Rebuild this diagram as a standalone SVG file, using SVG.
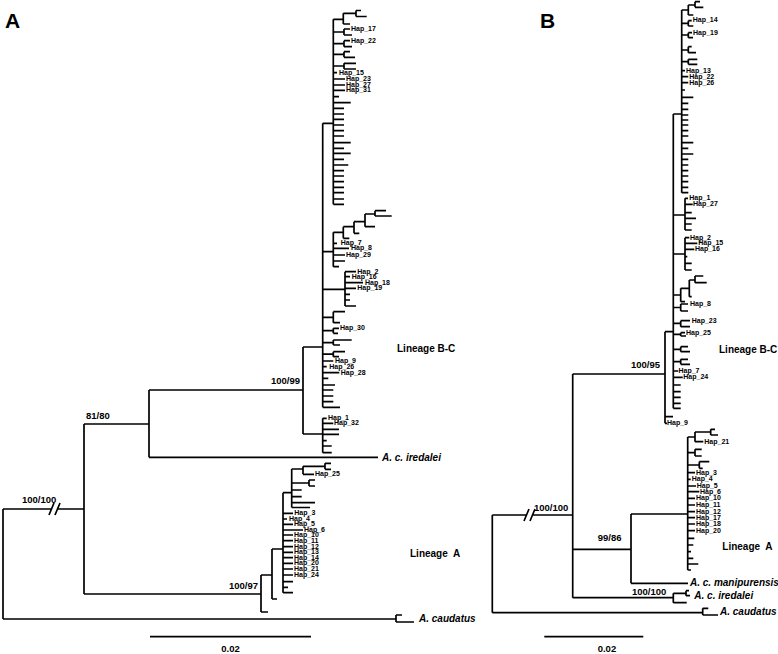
<svg xmlns="http://www.w3.org/2000/svg" width="778" height="654" viewBox="0 0 778 654">
<style>
.e{fill:none;stroke:#000;stroke-width:1.7}
.h{font:bold 7px "Liberation Sans",Arial,sans-serif}
.s{font:bold 9.5px "Liberation Sans",Arial,sans-serif}
.sp{font:italic bold 10px "Liberation Sans",Arial,sans-serif}
.lin{font:bold 10px "Liberation Sans",Arial,sans-serif;white-space:pre}
.pl{font:bold 21px "Liberation Sans",Arial,sans-serif}
</style>
<rect width="778" height="654" fill="#fff"/>
<g id="connectors">
<path class="e" d="M3 509V619M3 509H52M58 509H84M3 619H396M396 615V622M396 615H402M396 622H414M49 515L54 503M55 515L60 503
M84 424V594M84 424H149M84 594H261M149 390V457.3M149 390H303M149 457.3H378M303 347V434M303 347H322.7M303 434H322.7
M322.7 418.3V452.7M322.7 418.3H326.7M322.7 423.3H333.3M322.7 429.3H339M322.7 434.3H339M322.7 440.7H326.7M322.7 446H331.7M322.7 452.7H331.7
M322.7 123.3V407.3M322.7 123.3H333.3M322.7 251.7H333.3M322.7 289.3H345M322.7 317.3H333.3M322.7 330.7H333.3M322.7 342.7H333.3M322.7 354.2H333.3M322.7 361H333.3M322.7 366.7H326.7M322.7 372.7H339.3M322.7 378.3H328.3M322.7 385H335M322.7 390H333.3M322.7 396H333.3M322.7 401.7H333.3M322.7 407.3H340
M333.3 19.3V204.3M333.3 19.3H343.3M333.3 32H344M333.3 43.7H344M333.3 54.3H344M333.3 66H344M333.3 72.7H337M333.3 79H345M333.3 85H345M333.3 90.3H345M333.3 96.7H339M333.3 102.7H350.7M333.3 108.3H344M333.3 114H344M333.3 119.3H344M333.3 125H344M333.3 130.7H344M333.3 136H344M333.3 142.7H350.7M333.3 148.3H344M333.3 153.3H350.7M333.3 159.3H344M333.3 165H348.3M333.3 170.7H344M333.3 176H344M333.3 181.7H344M333.3 187.3H344M333.3 192.7H344M333.3 199H344M333.3 204.3H344
M343.3 13.3V24M343.3 13.3H356M343.3 24H350M356 10.5V16.5M356 10.5H361M356 16.5H366.7
M344 29V35M344 29H350M344 35H352M344 40.7V46.7M344 40.7H350M344 46.7H352M344 51.7V57.3M344 51.7H350M344 57.3H355M344 63.3V69M344 63.3H356M344 69H356
M333.3 232.3V266.7M333.3 232.3H343.3M333.3 243.3H337M333.3 248.3H349M333.3 255H345M333.3 261H345M333.3 266.7H339M343.3 226.7V238.3M343.3 226.7H354M343.3 238.3H349.3M354 221.7V233.3M354 221.7H365M354 233.3H359.3M365 214V226.7M365 214H375M365 226.7H375M375 210.7V216M375 210.7H386M375 216H391.7
M345 271.7V306M345 271.7H356M345 276.7H350M345 282.7H363M345 288.3H356M345 294.3H350M345 300H350M345 306H356
M333.3 311.7V322.7M333.3 311.7H345M333.3 322.7H340M333.3 328.3V333.3M333.3 328.3H339M333.3 333.3H338M333.3 340V345M333.3 340H351.7M333.3 345H340M333.3 351.7V356.7M333.3 351.7H345M333.3 356.7H339
M261 575V612M261 575H272M261 612H268M272 549V599M272 549H283M272 599H277M283 492.7V592.7M283 492.7H291.7M283 513.3H293M283 519H287M283 524.3H293M283 530H303M283 535H293M283 540.7H293M283 546.7H293M283 552.3H293M283 557.7H293M283 563.3H293M283 569H293M283 575H293M283 581.7H293M283 587.3H288M283 592.7H293
M291.7 469V507.5M291.7 469H303M291.7 483H309M291.7 490H301.7M291.7 496.7H301.7M291.7 502.7H315M291.7 507.5H310M303 466.3V474.3M303 466.3H325M303 474.3H314M325 463.3V469.3M325 463.3H331M325 469.3H331M309 480V486M309 480H315M309 486H315
M150 636.7H311"/>
<path class="e" d="M492.3 515V612.7M492.3 515H527M533 515H572.7M492.3 612.7H702.7M702.7 608.3V615M702.7 608.3H708.3M702.7 615H718M524 521L529 509M530 521L535 509
M572.7 374V597.7M572.7 374H665M572.7 549.3H631M572.7 597.7H673.3M673.3 593.3V602.7M673.3 593.3H686M673.3 602.7H686.7M686 590.7V595.7M686 590.7H689M686 595.7H690
M631 514V583.3M631 514H687.7M631 583.3H688
M687.7 437V570M687.7 437H695M695 432V441.7M695 432H710.7M695 441.7H703.3M710.7 429.3V435M710.7 429.3H715M710.7 435H718M687.7 452.7H695M695 449.3V456M695 449.3H701.7M695 456H701.7M687.7 465H699.3M699.3 461.7V468.3M699.3 461.7H709.3M699.3 468.3H702.7M687.7 472.7H695M687.7 479.3H690.7M687.7 486H696M687.7 491.7H699.3M687.7 498.3H695M687.7 505H695M687.7 511.7H695M687.7 517.7H695M687.7 524H695M687.7 530.7H695M687.7 538.3H694.3M687.7 545H693.3M687.7 551.7H691M687.7 558.3H693.3M687.7 564H698.3M687.7 570H691
M665 331.7V423.3M665 331.7H673.3M665 416.7H673M665 423.3H667
M673.3 114V408.3M673.3 114H681.7M673.3 215H685M673.3 254H685M673.3 295H680.7M673.3 307.5H680.7M673.3 323.3H680.7M673.3 334.3H680.7M673.3 349.3H680.7M673.3 361.7H680.7M673.3 371H678.3M673.3 377.3H682.7M673.3 385H680.7M673.3 391.7H680.7M673.3 397.3H680.7M673.3 403.3H680.7M673.3 408.3H680.7
M681.7 10V192.7M681.7 10H688.3M688.3 5V15M688.3 5H695M688.3 15H693.3M695 1.7V7.3M695 1.7H700M695 7.3H703.3
M681.7 23.3H688.3M688.3 20.7V26M688.3 20.7H691.7M688.3 26H693.3M681.7 35H688.3M688.3 32.7V37.7M688.3 32.7H692M688.3 37.7H693M681.7 50H688.3M688.3 46.7V52.7M688.3 46.7H691.7M688.3 52.7H696M681.7 61.7H688.3M688.3 59.3V64.3M688.3 59.3H697.3M688.3 64.3H697.3
M681.7 70.7H685M681.7 76.7H688.3M681.7 82.7H688.3M681.7 90H685M681.7 97.3H693.3M681.7 103.3H688.3M681.7 109.3H688.3M681.7 115H688.3M681.7 120H688.3M681.7 125H688.3M681.7 130.7H688.3M681.7 136H688.3M681.7 142.7H693.3M681.7 148.3H688.3M681.7 154H693.3M681.7 159.3H688.3M681.7 165H688.3M681.7 170.7H688.3M681.7 176H688.3M681.7 181.7H688.3M681.7 187.3H688.3M681.7 192.7H688.3
M685 198.3V230M685 198.3H688M685 204.3H692.7M685 212.7H691.7M685 218.3H696M685 224H691.7M685 230H691.7
M685 237.7V270M685 237.7H689.3M685 243.3H697.3M685 249.3H694.3M685 256.7H687.3M685 263.3H691.7M685 270H691.7
M680.7 288.3V301.7M680.7 288.3H689.3M680.7 301.7H685M689.3 280V296.7M689.3 280H695M689.3 296.7H691.7M695 276V282.7M695 276H703.3M695 282.7H706.7
M680.7 304V311M680.7 304H688M680.7 311H688M680.7 320.7V326.7M680.7 320.7H690M680.7 326.7H690M680.7 332.7V336M680.7 332.7H685M680.7 336H686M680.7 346.7V351.7M680.7 346.7H688M680.7 351.7H690M680.7 359.3V364.3M680.7 359.3H688M680.7 364.3H690
M544.3 636.7H643.3"/>
</g>
<g id="panelA">
<g id="A-label"><text class="pl" x="5" y="28">A</text></g>
<g id="A-hap17"><text class="h" x="351" y="31">Hap_17</text></g>
<g id="A-hap22"><text class="h" x="351" y="42.7">Hap_22</text></g>
<g id="A-hap15"><text class="h" x="339" y="74.7">Hap_15</text></g>
<g id="A-hap23"><text class="h" x="346" y="81">Hap_23</text></g>
<g id="A-hap27"><text class="h" x="346" y="87">Hap_27</text></g>
<g id="A-hap31"><text class="h" x="346" y="92.3">Hap_31</text></g>
<g id="A-hap7"><text class="h" x="340.7" y="245.3">Hap_7</text></g>
<g id="A-hap8"><text class="h" x="351" y="250.3">Hap_8</text></g>
<g id="A-hap29"><text class="h" x="346" y="257">Hap_29</text></g>
<g id="A-hap2"><text class="h" x="357.3" y="273.7">Hap_2</text></g>
<g id="A-hap16"><text class="h" x="351.7" y="278.7">Hap_16</text></g>
<g id="A-hap18"><text class="h" x="365" y="284.7">Hap_18</text></g>
<g id="A-hap19"><text class="h" x="357.3" y="290.3">Hap_19</text></g>
<g id="A-hap30"><text class="h" x="340" y="330">Hap_30</text></g>
<g id="A-hap9"><text class="h" x="335" y="363">Hap_9</text></g>
<g id="A-hap26"><text class="h" x="329.3" y="368.7">Hap_26</text></g>
<g id="A-hap28"><text class="h" x="340.7" y="374.7">Hap_28</text></g>
<g id="A-hap1"><text class="h" x="328" y="420.3">Hap_1</text></g>
<g id="A-hap32"><text class="h" x="334" y="425.3">Hap_32</text></g>
<g id="A-hap25"><text class="h" x="315" y="476.3">Hap_25</text></g>
<g id="A-hap3"><text class="h" x="294.3" y="515.3">Hap_3</text></g>
<g id="A-hap4"><text class="h" x="289" y="521">Hap_4</text></g>
<g id="A-hap5"><text class="h" x="294" y="526.3">Hap_5</text></g>
<g id="A-hap6"><text class="h" x="304" y="532">Hap_6</text></g>
<g id="A-hap10"><text class="h" x="294" y="537">Hap_10</text></g>
<g id="A-hap11"><text class="h" x="294" y="542.7">Hap_11</text></g>
<g id="A-hap12"><text class="h" x="294" y="548.7">Hap_12</text></g>
<g id="A-hap13"><text class="h" x="294" y="554.3">Hap_13</text></g>
<g id="A-hap14"><text class="h" x="294" y="559.7">Hap_14</text></g>
<g id="A-hap20"><text class="h" x="294" y="565.3">Hap_20</text></g>
<g id="A-hap21"><text class="h" x="294" y="571">Hap_21</text></g>
<g id="A-hap24"><text class="h" x="294" y="577">Hap_24</text></g>
<g id="A-lineageBC"><text class="lin" x="397" y="352">Lineage B-C</text></g>
<g id="A-lineageA"><text class="lin" x="410" y="557">Lineage  A</text></g>
<g id="A-iredalei"><text class="sp" x="382" y="461">A. c. iredalei</text></g>
<g id="A-caudatus"><text class="sp" x="419" y="622">A. caudatus</text></g>
<g id="A-s100-100"><text class="s" x="22" y="503">100/100</text></g>
<g id="A-s81-80"><text class="s" x="86" y="419">81/80</text></g>
<g id="A-s100-99"><text class="s" x="300" y="384" text-anchor="end">100/99</text></g>
<g id="A-s100-97"><text class="s" x="258" y="589" text-anchor="end">100/97</text></g>
<g id="A-scale"><text class="s" x="230.5" y="652" text-anchor="middle">0.02</text></g>
</g>
<g id="panelB">
<g id="B-label"><text class="pl" x="540" y="28">B</text></g>
<g id="B-hap14"><text class="h" x="692.7" y="22">Hap_14</text></g>
<g id="B-hap19"><text class="h" x="693" y="34.5">Hap_19</text></g>
<g id="B-hap13"><text class="h" x="686" y="72.7">Hap_13</text></g>
<g id="B-hap22"><text class="h" x="689.3" y="78.7">Hap_22</text></g>
<g id="B-hap26"><text class="h" x="689.3" y="84.7">Hap_26</text></g>
<g id="B-hap1"><text class="h" x="689.3" y="200.3">Hap_1</text></g>
<g id="B-hap27"><text class="h" x="693" y="206.3">Hap_27</text></g>
<g id="B-hap2"><text class="h" x="690" y="239.7">Hap_2</text></g>
<g id="B-hap15"><text class="h" x="698.3" y="245.3">Hap_15</text></g>
<g id="B-hap16"><text class="h" x="695" y="251.3">Hap_16</text></g>
<g id="B-hap8"><text class="h" x="690" y="306">Hap_8</text></g>
<g id="B-hap23"><text class="h" x="691.7" y="322.7">Hap_23</text></g>
<g id="B-hap25"><text class="h" x="686" y="334.7">Hap_25</text></g>
<g id="B-hap7"><text class="h" x="678.5" y="373">Hap_7</text></g>
<g id="B-hap24"><text class="h" x="683.3" y="379.3">Hap_24</text></g>
<g id="B-hap9"><text class="h" x="667" y="425.3">Hap_9</text></g>
<g id="B-hap21"><text class="h" x="704.3" y="443.7">Hap_21</text></g>
<g id="B-hap3"><text class="h" x="696" y="474.7">Hap_3</text></g>
<g id="B-hap4"><text class="h" x="691.7" y="481.3">Hap_4</text></g>
<g id="B-hap5"><text class="h" x="696.7" y="488">Hap_5</text></g>
<g id="B-hap6"><text class="h" x="700" y="493.7">Hap_6</text></g>
<g id="B-hap10"><text class="h" x="696" y="500.3">Hap_10</text></g>
<g id="B-hap11"><text class="h" x="696" y="507">Hap_11</text></g>
<g id="B-hap12"><text class="h" x="696" y="513.7">Hap_12</text></g>
<g id="B-hap17"><text class="h" x="696" y="519.7">Hap_17</text></g>
<g id="B-hap18"><text class="h" x="696" y="526">Hap_18</text></g>
<g id="B-hap20"><text class="h" x="696" y="532.7">Hap_20</text></g>
<g id="B-lineageBC"><text class="lin" x="719" y="353">Lineage B-C</text></g>
<g id="B-lineageA"><text class="lin" x="722.3" y="550">Lineage  A</text></g>
<g id="B-manipurensis"><text class="sp" x="690" y="586">A. c. manipurensis</text></g>
<g id="B-iredalei"><text class="sp" x="694.3" y="599">A. c. iredalei</text></g>
<g id="B-caudatus"><text class="sp" x="720" y="615">A. caudatus</text></g>
<g id="B-s100-100a"><text class="s" x="534" y="511">100/100</text></g>
<g id="B-s100-95"><text class="s" x="660" y="368" text-anchor="end">100/95</text></g>
<g id="B-s99-86"><text class="s" x="597.7" y="541">99/86</text></g>
<g id="B-s100-100b"><text class="s" x="632" y="595">100/100</text></g>
<g id="B-scale"><text class="s" x="597.7" y="652">0.02</text></g>
</g>
</svg>
